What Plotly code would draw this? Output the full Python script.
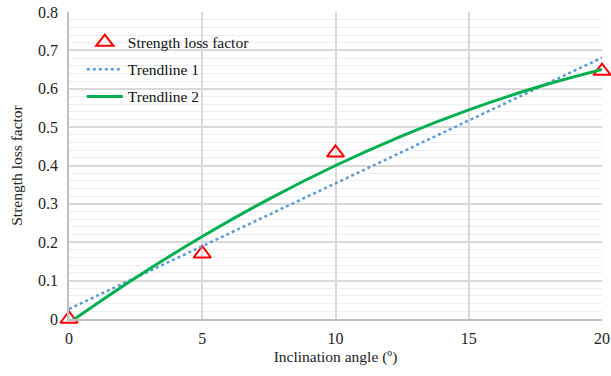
import plotly.graph_objects as go

# Measured data
angle = [0, 5, 10, 20]
loss = [0.0, 0.17, 0.433, 0.646]

# Trendline 1 (linear)
t1_x = [0, 20]
t1_y = [0.026, 0.681]

# Trendline 2 (curved)
t2_x = [0, 2.5, 5, 7.5, 10, 12.5, 15, 17.5, 20]
t2_y = [-0.01, 0.1075, 0.215, 0.3125, 0.40, 0.4775, 0.545, 0.6025, 0.65]

xticks = [0, 5, 10, 15, 20]
yticks = [0, 0.1, 0.2, 0.3, 0.4, 0.5, 0.6, 0.7, 0.8]

FONT = "Liberation Serif"
TXT = "#222222"

fig = go.Figure()
fig.add_trace(go.Scatter(
    x=angle, y=loss, mode="markers", name="Strength loss factor", legendgroup="a",
    marker=dict(symbol="triangle-up-open", size=15, color="#FF0000", line=dict(width=2, color="#FF0000")),
    cliponaxis=False))
fig.add_trace(go.Scatter(
    x=t1_x, y=t1_y, mode="lines", name="Trendline 1", legendgroup="b",
    line=dict(color="#5B9BD5", width=2.5, dash="dot")))
fig.add_trace(go.Scatter(
    x=t2_x, y=t2_y, mode="lines", name="Trendline 2", line_shape="spline", legendgroup="c",
    line=dict(color="#00B050", width=3)))

fig.update_layout(
    width=611, height=376,
    margin=dict(l=69, r=9, t=12, b=57, autoexpand=False),
    paper_bgcolor="white", plot_bgcolor="white",
    font=dict(family=FONT, size=16, color=TXT),
    showlegend=True,
    legend=dict(x=0.024, y=0.956, xanchor="left", yanchor="top",
                bgcolor="rgba(0,0,0,0)", font=dict(family=FONT, size=15.5, color="#111111"),
                tracegroupgap=4, itemwidth=36),
    xaxis=dict(range=[0, 20], tickvals=xticks, showgrid=True, gridcolor="#D9D9D9", gridwidth=1.5,
               zeroline=False, showline=True, linecolor="#BFBFBF", linewidth=1.5, automargin=False,
               ticks="", ticklabelstandoff=4, ticklabeloverflow="allow",
               tickfont=dict(family=FONT, size=16, color=TXT),
               title=dict(text="Inclination angle (º)", font=dict(family=FONT, size=15.5, color=TXT), standoff=5)),
    yaxis=dict(range=[0, 0.8], tickvals=yticks, showgrid=True, gridcolor="#D9D9D9", gridwidth=1.5,
               zeroline=False, showline=True, linecolor="#BFBFBF", linewidth=1.5, automargin=False,
               ticks="", ticklabelstandoff=6, ticklabeloverflow="allow",
               tickfont=dict(family=FONT, size=16, color=TXT),
               minor=dict(dtick=0.02, showgrid=True, gridcolor="#EEEEEE", gridwidth=1),
               title=dict(text="Strength loss factor", font=dict(family=FONT, size=15.5, color=TXT), standoff=12)),
)

fig.write_html("out.html", config={"displayModeBar": False},
               post_script="document.body.style.margin='0';document.body.style.overflow='hidden';")
